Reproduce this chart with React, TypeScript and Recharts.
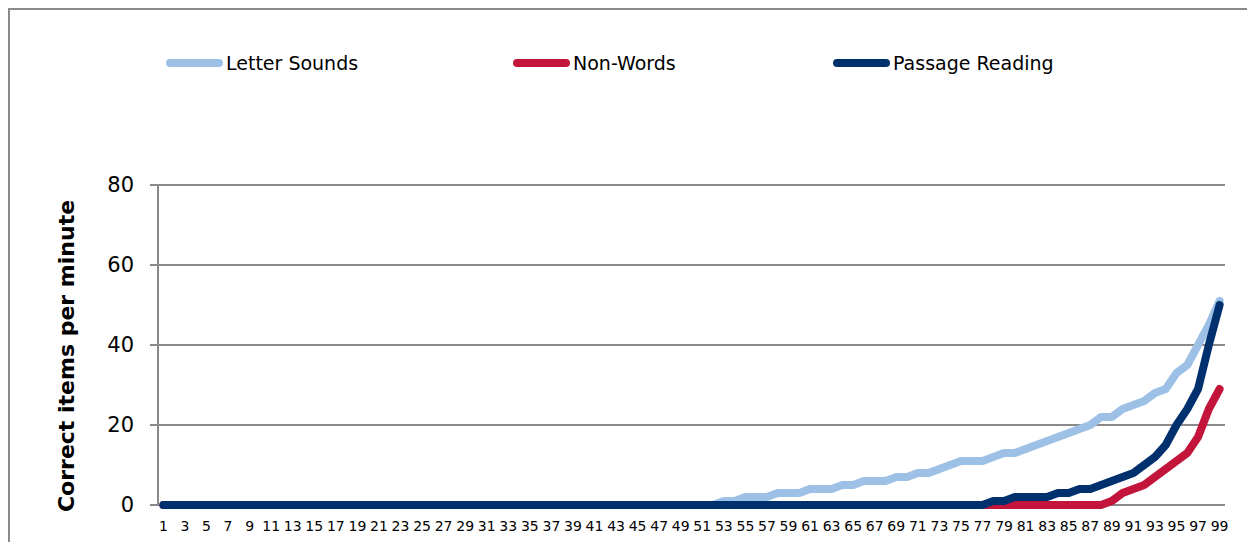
import React from "react";
import { LineChart, Line, XAxis, YAxis, CartesianGrid } from "recharts";

// percentile rank 1..99
const categories: number[] = Array.from({ length: 99 }, (_, i) => i + 1);

const letterSounds = [
  0, 0, 0, 0, 0, 0, 0, 0, 0, 0,
  0, 0, 0, 0, 0, 0, 0, 0, 0, 0,
  0, 0, 0, 0, 0, 0, 0, 0, 0, 0,
  0, 0, 0, 0, 0, 0, 0, 0, 0, 0,
  0, 0, 0, 0, 0, 0, 0, 0, 0, 0,
  0, 0, 1, 1, 2, 2, 2, 3, 3, 3,
  4, 4, 4, 5, 5, 6, 6, 6, 7, 7,
  8, 8, 9, 10, 11, 11, 11, 12, 13, 13,
  14, 15, 16, 17, 18, 19, 20, 22, 22, 24,
  25, 26, 28, 29, 33, 35, 40, 45, 51,
];

const nonWords = [
  0, 0, 0, 0, 0, 0, 0, 0, 0, 0,
  0, 0, 0, 0, 0, 0, 0, 0, 0, 0,
  0, 0, 0, 0, 0, 0, 0, 0, 0, 0,
  0, 0, 0, 0, 0, 0, 0, 0, 0, 0,
  0, 0, 0, 0, 0, 0, 0, 0, 0, 0,
  0, 0, 0, 0, 0, 0, 0, 0, 0, 0,
  0, 0, 0, 0, 0, 0, 0, 0, 0, 0,
  0, 0, 0, 0, 0, 0, 0, 0, 0, 0,
  0, 0, 0, 0, 0, 0, 0, 0, 1, 3,
  4, 5, 7, 9, 11, 13, 17, 24, 29,
];

const passageReading = [
  0, 0, 0, 0, 0, 0, 0, 0, 0, 0,
  0, 0, 0, 0, 0, 0, 0, 0, 0, 0,
  0, 0, 0, 0, 0, 0, 0, 0, 0, 0,
  0, 0, 0, 0, 0, 0, 0, 0, 0, 0,
  0, 0, 0, 0, 0, 0, 0, 0, 0, 0,
  0, 0, 0, 0, 0, 0, 0, 0, 0, 0,
  0, 0, 0, 0, 0, 0, 0, 0, 0, 0,
  0, 0, 0, 0, 0, 0, 0, 1, 1, 2,
  2, 2, 2, 3, 3, 4, 4, 5, 6, 7,
  8, 10, 12, 15, 20, 24, 29, 40, 50,
];

const yTicks = [0, 20, 40, 60, 80];
const xLabelTicks = categories.filter((c) => c % 2 === 1);
const xBoundaryTicks = [...categories.map((c) => c - 0.5), 99.5];

const series = [
  { key: "ls", name: "Letter Sounds", color: "#9DC0E6", values: letterSounds },
  { key: "nw", name: "Non-Words", color: "#C3143C", values: nonWords },
  { key: "pr", name: "Passage Reading", color: "#00306E", values: passageReading },
];

const data = categories.map((c, i) => ({
  n: c,
  ls: letterSounds[i],
  nw: nonWords[i],
  pr: passageReading[i],
}));

const FONT = "'DejaVu Sans', sans-serif";
const GRAY = "#8a8a8a";
const legendLeft = [158, 505, 825];

function XLabel(props: any) {
  const { x, y, payload } = props;
  return (
    <text x={x} y={y} dy={11} textAnchor="middle" fontSize={14} fontFamily={FONT} fill="#000">
      {payload.value}
    </text>
  );
}

export default function App() {
  return (
    <div style={{ position: "relative", width: 1247, height: 534, fontFamily: FONT }}>
      <div
        style={{
          position: "absolute",
          left: 0,
          top: 0,
          width: 1247,
          height: 534,
          borderLeft: `2px solid ${GRAY}`,
          borderTop: `2px solid ${GRAY}`,
          boxSizing: "border-box",
        }}
      />
      <div style={{ position: "absolute", left: 0, top: 0 }}>
        <LineChart
          width={1247}
          height={534}
          data={data}
          margin={{ top: 177, right: 30, bottom: 7, left: 80 }}
        >
          <CartesianGrid vertical={false} stroke={GRAY} strokeWidth={2} />
          <XAxis
            xAxisId={0}
            dataKey="n"
            type="number"
            domain={[0.5, 99.5]}
            ticks={xBoundaryTicks}
            interval={0}
            height={0}
            tickSize={5}
            tickFormatter={() => ""}
            axisLine={{ stroke: GRAY, strokeWidth: 2 }}
            tickLine={{ stroke: GRAY, strokeWidth: 1.5 }}
          />
          <XAxis
            xAxisId="lab"
            dataKey="n"
            type="number"
            domain={[0.5, 99.5]}
            ticks={xLabelTicks}
            interval={0}
            height={30}
            tickSize={0}
            tickMargin={15}
            axisLine={false}
            tickLine={false}
            tick={<XLabel />}
          />
          <YAxis
            domain={[0, 80]}
            ticks={yTicks}
            width={70}
            tickSize={8}
            tickMargin={16}
            axisLine={{ stroke: GRAY, strokeWidth: 2 }}
            tickLine={{ stroke: GRAY, strokeWidth: 2 }}
            tick={{ fontSize: 21, fill: "#000", fontFamily: FONT }}
            label={() => (
              <text
                x={58}
                y={348}
                transform="rotate(-90 58 348)"
                textAnchor="middle"
                dominantBaseline="central"
                fontSize={22}
                fontWeight="bold"
                fontFamily={FONT}
                fill="#000"
              >
                Correct items per minute
              </text>
            )}
          />
          {series.map((s) => (
            <Line
              key={s.key}
              dataKey={s.key}
              name={s.name}
              type="linear"
              stroke={s.color}
              strokeWidth={8}
              strokeLinecap="round"
              strokeLinejoin="round"
              dot={false}
              activeDot={false}
              isAnimationActive={false}
            />
          ))}
        </LineChart>
      </div>
      {series.map((s, i) => (
        <div
          key={s.key}
          style={{
            position: "absolute",
            left: legendLeft[i],
            top: 43,
            height: 24,
            display: "flex",
            alignItems: "center",
            fontSize: 19,
            color: "#000",
            whiteSpace: "nowrap",
          }}
        >
          <span
            style={{
              display: "inline-block",
              width: 57,
              height: 8,
              borderRadius: 4,
              background: s.color,
              marginRight: 3,
            }}
          />
          {s.name}
        </div>
      ))}
    </div>
  );
}
